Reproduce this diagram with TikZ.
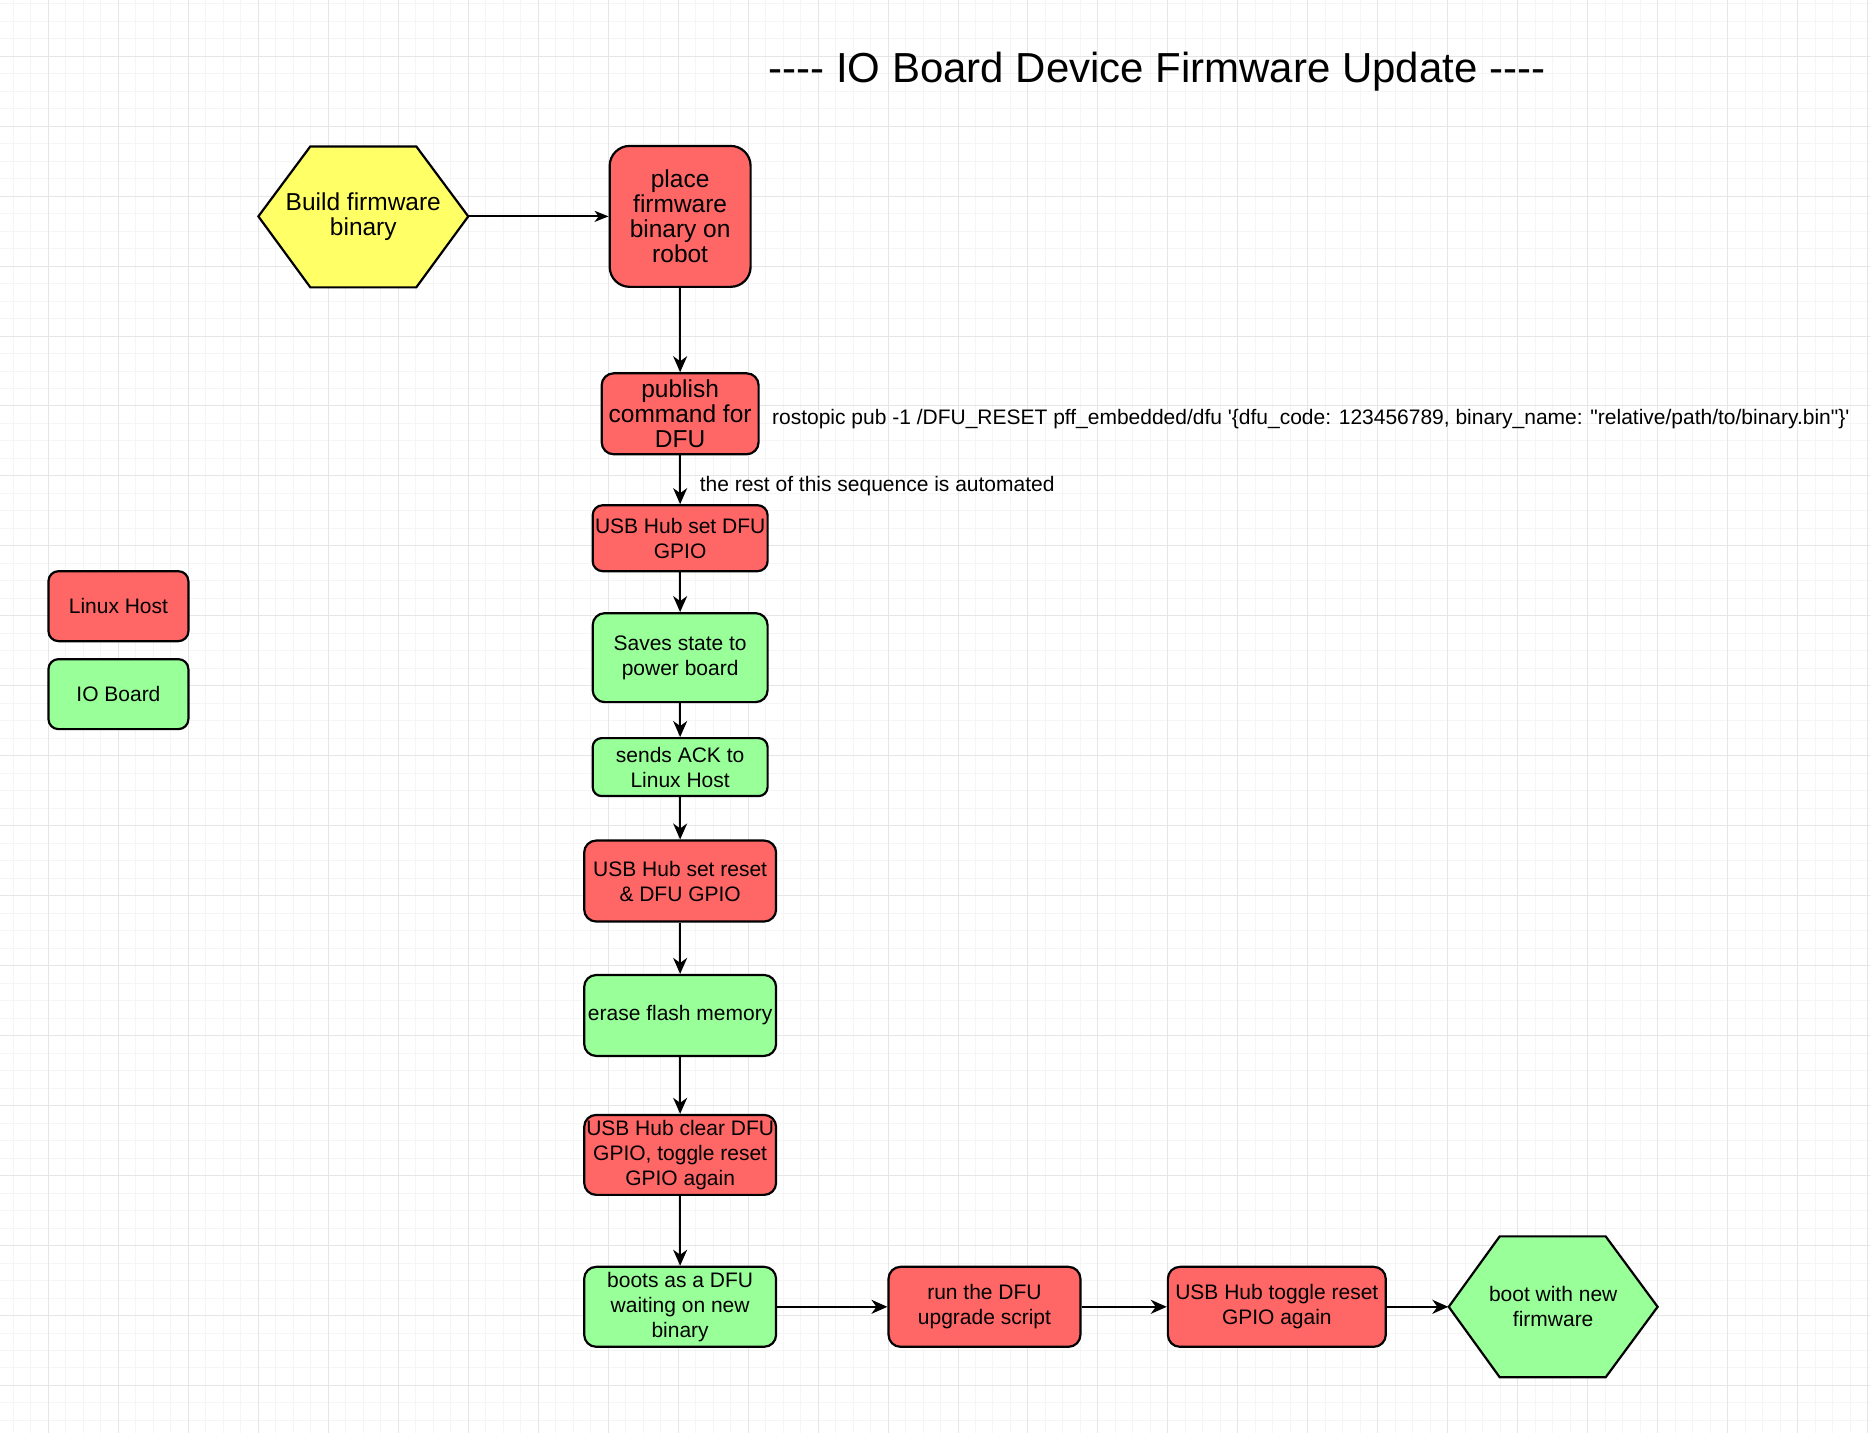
\documentclass[tikz,border=0pt]{standalone}
\usepackage{fontspec}
\setmainfont{Liberation Sans}[Ligatures=TeXOff]
\usepackage{tikz}
\usetikzlibrary{arrows.meta}

\definecolor{hostred}{HTML}{FF6666}
\definecolor{boardgreen}{HTML}{99FF99}
\definecolor{buildyellow}{HTML}{FFFF66}
\definecolor{gridmajor}{HTML}{E6E6E6}
\definecolor{gridminor}{HTML}{F5F5F5}

\begin{document}
\begin{tikzpicture}[x=0.5pt, y=-0.5pt,
    every node/.style={font=\fontsize{10.5}{12.5}\selectfont},
    bigtext/.style={font=\fontsize{12.25}{12.4}\selectfont},
    hostbox/.style={draw=black, line width=1.1pt, fill=hostred, rounded corners=6pt, align=center, inner sep=1pt},
    boardbox/.style={hostbox, fill=boardgreen},
    flow/.style={-{Stealth[length=8pt, width=7pt, inset=2.5pt]}, line width=1pt}]
    \fill[white] (0,0) rectangle (1870,1433);
    % grid
    \foreach \gx in {13,30.5,...,1870} \draw[gridminor, line width=0.5pt] (\gx,0) -- (\gx,1433);
    \foreach \gy in {3.2,20.7,...,1433} \draw[gridminor, line width=0.5pt] (0,\gy) -- (1870,\gy);
    \foreach \gx in {48,118,...,1870} \draw[gridmajor, line width=0.5pt] (\gx,0) -- (\gx,1433);
    \foreach \gy in {55.7,125.7,...,1433} \draw[gridmajor, line width=0.5pt] (0,\gy) -- (1870,\gy);

    \node (title) [font=\fontsize{21}{25}\selectfont] at (1157,71.5) {---- IO Board Device Firmware Update ----};

    % legend
    \node (legendhost) [hostbox, minimum width=70pt, minimum height=35pt, rounded corners=5pt] at (118,606) {Linux Host};
    \node (legendboard) [boardbox, minimum width=70pt, minimum height=35pt, rounded corners=5pt] at (118,694) {IO Board};

    % start and end
    \filldraw[fill=buildyellow, draw=black, line width=1.1pt] (258,216) -- (310,146) -- (416,146) -- (468,216) -- (416,287) -- (310,287) -- cycle;
    \node (build) [bigtext, minimum width=105pt, minimum height=70.5pt, align=center] at (363,216) {Build firmware\\binary};
    \filldraw[fill=boardgreen, draw=black, line width=1.1pt] (1449,1307) -- (1500,1236.5) -- (1606,1236.5) -- (1658,1307) -- (1606,1377.5) -- (1500,1377.5) -- cycle;
    \node (bootnew) [minimum width=104.5pt, minimum height=70.5pt, align=center] at (1553.5,1307) {boot with new\\firmware};

    % main column
    \node (place) [hostbox, bigtext, minimum width=70.5pt, minimum height=70.5pt, rounded corners=10pt] at (680,216) {place\\firmware\\binary on\\robot};
    \node (publish) [hostbox, bigtext, minimum width=78.5pt, minimum height=40.5pt] at (680,413.5) {publish\\command for\\DFU};
    \node (cmd) [anchor=west] at (765,419) {rostopic pub -1 /DFU\_RESET pff\_embedded/dfu '\{dfu\_code: 123456789, binary\_name: "relative/path/to/binary.bin"\}'};
    \node (usbdfu) [hostbox, minimum width=87.5pt, minimum height=33pt, rounded corners=5pt] at (680,538) {USB Hub set DFU\\GPIO};
    \node (saves) [boardbox, minimum width=87.5pt, minimum height=44.5pt] at (680,657.5) {Saves state to\\power board};
    \node (ack) [boardbox, minimum width=87.5pt, minimum height=29pt, rounded corners=4.5pt] at (680,767) {sends ACK to\\Linux Host};
    \node (usbreset) [hostbox, minimum width=96pt, minimum height=40.5pt] at (680,881) {USB Hub set reset\\\& DFU GPIO};
    \node (erase) [boardbox, minimum width=96pt, minimum height=40.5pt] at (680,1015.5) {erase flash memory};
    \node (usbclear) [hostbox, minimum width=96pt, minimum height=40pt] at (680,1155) {USB Hub clear DFU\\GPIO, toggle reset\\GPIO again};
    \node (boots) [boardbox, minimum width=96pt, minimum height=40pt] at (680,1307) {boots as a DFU\\waiting on new\\binary};

    % bottom row
    \node (run) [hostbox, minimum width=96pt, minimum height=40pt] at (984.5,1307) {run the DFU\\upgrade script};
    \node (toggle) [hostbox, minimum width=109pt, minimum height=40pt] at (1277,1307) {USB Hub toggle reset\\GPIO again};

    % connectors
    \draw[-{Stealth[length=7pt, width=5.5pt, inset=2pt]}, line width=1pt] (build) -- (place);
    \draw[flow] (place) -- (publish);
    \draw[flow] (publish) -- (usbdfu) node[pos=0.62, right=6pt] (autonote) {the rest of this sequence is automated};
    \draw[flow] (usbdfu) -- (saves);
    \draw[flow] (saves) -- (ack);
    \draw[flow] (ack) -- (usbreset);
    \draw[flow] (usbreset) -- (erase);
    \draw[flow] (erase) -- (usbclear);
    \draw[flow] (usbclear) -- (boots);
    \draw[flow] (boots) -- (run);
    \draw[flow] (run) -- (toggle);
    \draw[flow] (toggle) -- (bootnew);
\end{tikzpicture}
\end{document}
